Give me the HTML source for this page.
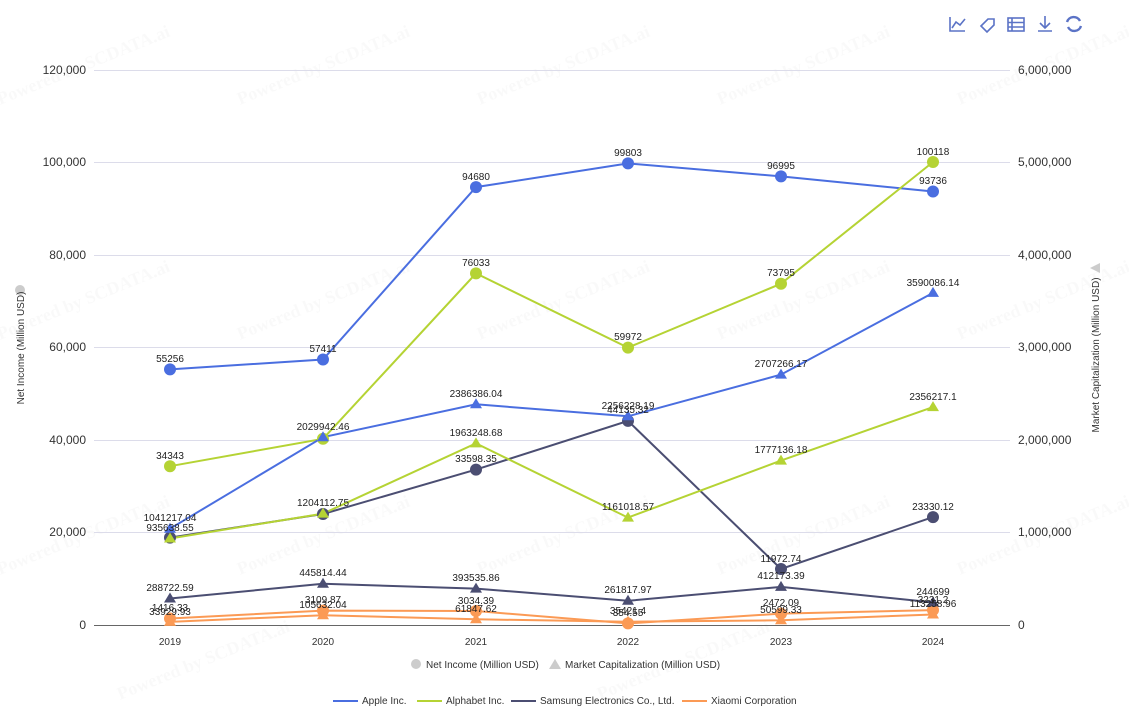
<!DOCTYPE html>
<html><head><meta charset="utf-8"><style>
html,body{margin:0;padding:0;background:#fff;}
svg{display:block;font-family:"Liberation Sans",Arial,sans-serif;}
</style></head><body>
<svg width="1129" height="725" viewBox="0 0 1129 725" xmlns="http://www.w3.org/2000/svg">
<g font-size="18" font-family="Liberation Serif,serif" font-weight="bold" fill="#000" fill-opacity="0.022">
<text transform="translate(0,105) rotate(-22)">Powered by SCDATA.ai</text>
<text transform="translate(240,105) rotate(-22)">Powered by SCDATA.ai</text>
<text transform="translate(480,105) rotate(-22)">Powered by SCDATA.ai</text>
<text transform="translate(720,105) rotate(-22)">Powered by SCDATA.ai</text>
<text transform="translate(960,105) rotate(-22)">Powered by SCDATA.ai</text>
<text transform="translate(0,340) rotate(-22)">Powered by SCDATA.ai</text>
<text transform="translate(240,340) rotate(-22)">Powered by SCDATA.ai</text>
<text transform="translate(480,340) rotate(-22)">Powered by SCDATA.ai</text>
<text transform="translate(720,340) rotate(-22)">Powered by SCDATA.ai</text>
<text transform="translate(960,340) rotate(-22)">Powered by SCDATA.ai</text>
<text transform="translate(0,575) rotate(-22)">Powered by SCDATA.ai</text>
<text transform="translate(240,575) rotate(-22)">Powered by SCDATA.ai</text>
<text transform="translate(480,575) rotate(-22)">Powered by SCDATA.ai</text>
<text transform="translate(720,575) rotate(-22)">Powered by SCDATA.ai</text>
<text transform="translate(960,575) rotate(-22)">Powered by SCDATA.ai</text>
<text transform="translate(120,700) rotate(-22)">Powered by SCDATA.ai</text>
<text transform="translate(600,700) rotate(-22)">Powered by SCDATA.ai</text>
</g>
<g stroke="#5b73c6" stroke-width="1.6" fill="none">
<path d="M950 17 V31 H965 M952 28 L956 22 L960 25 L965 19"/>
<path d="M981 26 L988 19 L994 19 L994 25 L987 32 Z"/>
<rect x="1008" y="18" width="16" height="13"/><path d="M1008 22.5H1024M1008 27H1024M1012 18V31"/>
<path d="M1045 16V27M1040 23L1045 28L1050 23M1038 31H1052"/>
<path d="M1067 22 A7 7 0 0 1 1080 21 M1081 26 A7 7 0 0 1 1068 27" stroke-width="2.4"/>
</g>
<g stroke="#dcdcea" stroke-width="1">
<line x1="94" x2="1010" y1="70.5" y2="70.5"/><line x1="94" x2="1010" y1="162.5" y2="162.5"/>
<line x1="94" x2="1010" y1="255.5" y2="255.5"/><line x1="94" x2="1010" y1="347.5" y2="347.5"/>
<line x1="94" x2="1010" y1="440.5" y2="440.5"/><line x1="94" x2="1010" y1="532.5" y2="532.5"/>
</g>
<line x1="94" x2="1010" y1="625.5" y2="625.5" stroke="#666" stroke-width="1"/>
<g font-size="12" fill="#333" text-anchor="end">
<text x="86" y="74">120,000</text><text x="86" y="166">100,000</text><text x="86" y="259">80,000</text>
<text x="86" y="351">60,000</text><text x="86" y="444">40,000</text><text x="86" y="536">20,000</text><text x="86" y="629">0</text>
</g>
<g font-size="12" fill="#333">
<text x="1018" y="74">6,000,000</text><text x="1018" y="166">5,000,000</text><text x="1018" y="259">4,000,000</text>
<text x="1018" y="351">3,000,000</text><text x="1018" y="444">2,000,000</text><text x="1018" y="536">1,000,000</text><text x="1018" y="629">0</text>
</g>
<g font-size="10" fill="#333" text-anchor="middle">
<text x="170" y="645">2019</text><text x="323" y="645">2020</text><text x="476" y="645">2021</text>
<text x="628" y="645">2022</text><text x="781" y="645">2023</text><text x="933" y="645">2024</text>
</g>
<circle cx="20" cy="290" r="5" fill="#ccc"/>
<text transform="translate(24,348) rotate(-90)" font-size="10" fill="#333" text-anchor="middle">Net Income (Million USD)</text>
<path d="M1090 268 L1100 263 L1100 273 Z" fill="#ccc"/>
<text transform="translate(1099,355) rotate(-90)" font-size="10" fill="#333" text-anchor="middle">Market Capitalization (Million USD)</text>

<g fill="none" stroke-width="2">
<polyline stroke="#4a6ee0" points="170,369.4 323,359.5 476,187.1 628,163.4 781,176.4 933,191.5"/>
<polyline stroke="#b5d334" points="170,466.2 323,438.8 476,273.4 628,347.6 781,283.7 933,162"/>
<polyline stroke="#4b4e72" points="170,537.6 323,514 476,469.6 628,420.9 781,569 933,517.1"/>
<polyline stroke="#fb9a55" points="170,618.5 323,610.6 476,611 628,623.4 781,613.6 933,610.1"/>
<polyline stroke="#4a6ee0" points="170,528.7 323,437.2 476,404.3 628,416.3 781,374.6 933,292.9"/>
<polyline stroke="#b5d334" points="170,538.5 323,513.6 476,443.4 628,517.6 781,460.6 933,407.1"/>
<polyline stroke="#4b4e72" points="170,598.5 323,583.8 476,588.6 628,600.8 781,586.9 933,602.4"/>
<polyline stroke="#fb9a55" points="170,621.9 323,615.2 476,619.3 628,621.7 781,620.3 933,614.5"/>
</g>
<g fill="#4a6ee0"><circle cx="170" cy="369.4" r="6"/><circle cx="323" cy="359.5" r="6"/><circle cx="476" cy="187.1" r="6"/><circle cx="628" cy="163.4" r="6"/><circle cx="781" cy="176.4" r="6"/><circle cx="933" cy="191.5" r="6"/></g>
<g fill="#b5d334"><circle cx="170" cy="466.2" r="6"/><circle cx="323" cy="438.8" r="6"/><circle cx="476" cy="273.4" r="6"/><circle cx="628" cy="347.6" r="6"/><circle cx="781" cy="283.7" r="6"/><circle cx="933" cy="162" r="6"/></g>
<g fill="#4b4e72"><circle cx="170" cy="537.6" r="6"/><circle cx="323" cy="514" r="6"/><circle cx="476" cy="469.6" r="6"/><circle cx="628" cy="420.9" r="6"/><circle cx="781" cy="569" r="6"/><circle cx="933" cy="517.1" r="6"/></g>
<g fill="#fb9a55"><circle cx="170" cy="618.5" r="6"/><circle cx="323" cy="610.6" r="6"/><circle cx="476" cy="611" r="6"/><circle cx="628" cy="623.4" r="6"/><circle cx="781" cy="613.6" r="6"/><circle cx="933" cy="610.1" r="6"/></g>
<g fill="#4a6ee0"><path d="M170 522.7l6 10h-12z"/><path d="M323 431.2l6 10h-12z"/><path d="M476 398.3l6 10h-12z"/><path d="M628 410.3l6 10h-12z"/><path d="M781 368.6l6 10h-12z"/><path d="M933 286.9l6 10h-12z"/></g>
<g fill="#b5d334"><path d="M170 532.5l6 10h-12z"/><path d="M323 507.6l6 10h-12z"/><path d="M476 437.4l6 10h-12z"/><path d="M628 511.6l6 10h-12z"/><path d="M781 454.6l6 10h-12z"/><path d="M933 401.1l6 10h-12z"/></g>
<g fill="#4b4e72"><path d="M170 592.5l6 10h-12z"/><path d="M323 577.8l6 10h-12z"/><path d="M476 582.6l6 10h-12z"/><path d="M628 594.8l6 10h-12z"/><path d="M781 580.9l6 10h-12z"/><path d="M933 596.4l6 10h-12z"/></g>
<g fill="#fb9a55"><path d="M170 615.9l6 10h-12z"/><path d="M323 609.2l6 10h-12z"/><path d="M476 613.3l6 10h-12z"/><path d="M628 615.7l6 10h-12z"/><path d="M781 614.3l6 10h-12z"/><path d="M933 608.5l6 10h-12z"/></g>
<g font-size="10" fill="#222" text-anchor="middle">
<text x="170" y="362">55256</text><text x="323" y="352">57411</text><text x="476" y="180">94680</text><text x="628" y="156">99803</text><text x="781" y="169">96995</text><text x="933" y="184">93736</text>
<text x="170" y="459">34343</text><text x="476" y="266">76033</text><text x="628" y="340">59972</text><text x="781" y="276">73795</text><text x="933" y="155">100118</text>
<text x="476" y="462">33598.35</text><text x="628" y="413">44135.32</text><text x="781" y="562">11972.74</text><text x="933" y="510">23330.12</text>
<text x="170" y="611">1416.33</text><text x="323" y="603">3109.87</text><text x="476" y="604">3034.39</text><text x="628" y="616">354.55</text><text x="781" y="606">2472.09</text><text x="933" y="603">3231.2</text>
<text x="170" y="521">1041217.04</text><text x="323" y="430">2029942.46</text><text x="476" y="397">2386386.04</text><text x="628" y="409">2256228.19</text><text x="781" y="367">2707266.17</text><text x="933" y="286">3590086.14</text>
<text x="170" y="531">935638.55</text><text x="323" y="506">1204112.75</text><text x="476" y="436">1963248.68</text><text x="628" y="510">1161018.57</text><text x="781" y="453">1777136.18</text><text x="933" y="400">2356217.1</text>
<text x="170" y="591">288722.59</text><text x="323" y="576">445814.44</text><text x="476" y="581">393535.86</text><text x="628" y="593">261817.97</text><text x="781" y="579">412173.39</text><text x="933" y="595">244699</text>
<text x="170" y="615">33929.93</text><text x="323" y="608">105632.04</text><text x="476" y="612">61847.62</text><text x="628" y="614">35421.4</text><text x="781" y="613">50599.33</text><text x="933" y="607">113258.96</text>
</g>
<circle cx="416" cy="664" r="5" fill="#ccc"/>
<text x="426" y="668" font-size="10" fill="#333">Net Income (Million USD)</text>
<path d="M555 659 L561 669 L549 669 Z" fill="#ccc"/>
<text x="565" y="668" font-size="10" fill="#333">Market Capitalization (Million USD)</text>
<g stroke-width="2">
<line x1="333" x2="358" y1="701" y2="701" stroke="#4a6ee0"/>
<line x1="417" x2="442" y1="701" y2="701" stroke="#b5d334"/>
<line x1="511" x2="536" y1="701" y2="701" stroke="#4b4e72"/>
<line x1="682" x2="707" y1="701" y2="701" stroke="#fb9a55"/>
</g>
<g font-size="10" fill="#333">
<text x="362" y="704">Apple Inc.</text><text x="446" y="704">Alphabet Inc.</text>
<text x="540" y="704">Samsung Electronics Co., Ltd.</text><text x="711" y="704">Xiaomi Corporation</text>
</g>
</svg>
</body></html>
